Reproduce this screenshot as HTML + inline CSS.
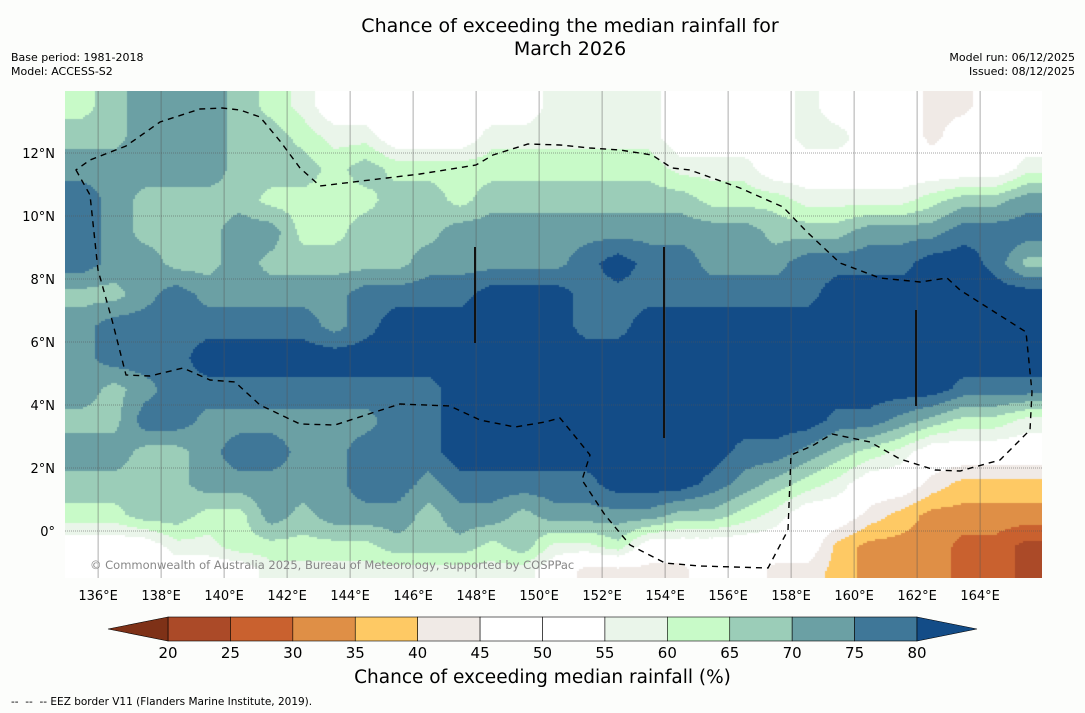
<!DOCTYPE html>
<html><head><meta charset="utf-8"><style>
body{margin:0;background:#fcfdfb;width:1085px;height:713px;overflow:hidden;font-family:"DejaVu Sans","Liberation Sans",sans-serif;position:relative}
.t{position:absolute;white-space:nowrap;color:#000}
</style></head><body>
<div class="t" style="left:0;width:1140px;text-align:center;top:15px;font-size:19px;line-height:23px">Chance of exceeding the median rainfall for<br>March 2026</div>
<div class="t" style="left:11px;top:51px;font-size:11px;line-height:14px">Base period: 1981-2018<br>Model: ACCESS-S2</div>
<div class="t" style="right:10px;top:51px;font-size:11px;line-height:14px;text-align:right">Model run: 06/12/2025<br>Issued: 08/12/2025</div>
<canvas id="map" width="977" height="487" style="position:absolute;left:65px;top:91px"></canvas>
<svg id="ov" width="1085" height="713" style="position:absolute;left:0;top:0"></svg>
<div class="t" style="left:90px;top:558px;font-size:11.5px;color:#888">© Commonwealth of Australia 2025, Bureau of Meteorology, supported by COSPPac</div>
<div class="t" style="left:0;width:1085px;text-align:center;top:667px;font-size:18.5px">Chance of exceeding median rainfall (%)</div>
<div class="t" style="left:11px;top:696px;font-size:10.5px">--&nbsp; --&nbsp; -- EEZ border V11 (Flanders Marine Institute, 2019).</div>
<script>
const lons=[135.5,136.5,137.5,138.5,139.5,140.5,141.5,142.5,143.5,144.5,145.5,146.5,147.5,148.5,149.5,150.5,151.5,152.5,153.5,154.5,155.5,156.5,157.5,158.5,159.5,160.5,161.5,162.5,163.5,164.5,165.5];
const lats=[13.5,12.5,11.5,10.5,9.5,8.5,7.5,6.5,5.5,4.5,3.5,2.5,1.5,0.5,-0.5,-1.25];
const rowCodes=[
"GLTTTLGPWWWWWWWPPPPWWWWPWWWEEWW",
"LLTTTLLGPPWWWPPPPPPWWWWPPWWEWWW",
"TTTTTLLLGLGGGGGGGGGPPPWWWWWWWWP",
"BTLLLLGGGGLLGLLLLLLLGGGPPPPGLLT",
"BTLLLTTGGLLLTTTTTTTTTTLLLTTTBBB",
"BTTLLTLLLLLTTTTTBDBBTTTBBBBDDBL",
"LLTBTTTTTBBBBDDDBBBBBBBBDDDDDDD",
"TBBBBBBBTBDDDDDDBBDDDDDDDDDDDDD",
"TBBBDDDDDDDDDDDDDDDDDDDDDDDDDDD",
"TLTBBBBBBBBBDDDDDDDDDDDDDDDDBBB",
"LLBBTTTTTTBBDDDDDDDDDDDDBBTLGGP",
"TTLLTBBTTBBBDDDDDDDDDBBTLGPWWWW",
"LLLLTTTTTBBTBBBBBDDDBTLGPWWEYYY",
"GGLLGGTLTTTLTTLTTTTLLGPWWEYOOOO",
"WWWPPGGGGGLLLGLPPGWWWWWWYOOORRK",
"WWWWWWPPPPPPPPPWEEEEWWEEYOOORRK"];
const codeVal={D:83,B:78,T:73,L:68,G:63,P:58,W:50,E:43,Y:38,O:33,R:28,K:23};
const grid=rowCodes.map(r=>r.split('').map(c=>codeVal[c]));
const binEdges=[20,25,30,35,40,45,50,55,60,65,70,75,80];
const binColors=["#7e3117","#ab4a28","#c9612f","#df8f46","#fec964","#f0eae6","#ffffff","#ffffff","#eaf5ea","#c8fac8","#9bcdb8","#6ba0a4","#3f7798","#134c87"];
const lonTicks=[136,138,140,142,144,146,148,150,152,154,156,158,160,162,164];
const latTicks=[12,10,8,6,4,2,0];
const X=lon=>66.6+(lon-135)*31.5, Y=lat=>531-lat*31.5;
function colorFor(v){let i=0;while(i<binEdges.length&&v>=binEdges[i])i++;return binColors[i];}
function idx(arr,v,desc){
  if(desc){if(v>=arr[0])return[0,0];for(let i=0;i<arr.length-1;i++){if(v<=arr[i]&&v>=arr[i+1])return[i,(arr[i]-v)/(arr[i]-arr[i+1])];}return[arr.length-2,1];}
  if(v<=arr[0])return[0,0];for(let i=0;i<arr.length-1;i++){if(v>=arr[i]&&v<=arr[i+1])return[i,(v-arr[i])/(arr[i+1]-arr[i])];}return[arr.length-2,1];}
const cv=document.getElementById('map'),ctx=cv.getContext('2d');
const S=2;
for(let py=0;py<487;py+=S){const lat=(531-(91+py+S/2))/31.5;let[ri,rt]=idx(lats,lat,true);
 for(let px=0;px<977;px+=S){const lon=135+((65+px+S/2)-66.6)/31.5;let[ci,ct]=idx(lons,lon,false);
  const v=grid[ri][ci]*(1-rt)*(1-ct)+grid[ri][ci+1]*(1-rt)*ct+grid[ri+1][ci]*rt*(1-ct)+grid[ri+1][ci+1]*rt*ct;
  ctx.fillStyle=colorFor(v);ctx.fillRect(px,py,S,S);}}
const NS='http://www.w3.org/2000/svg',ov=document.getElementById('ov');
function mk(t,a,txt){const e=document.createElementNS(NS,t);for(const k in a)e.setAttribute(k,a[k]);if(txt!==undefined)e.textContent=txt;ov.appendChild(e);return e;}
const FF='DejaVu Sans, Liberation Sans, sans-serif';
lonTicks.forEach(l=>{const g=mk('line',{x1:X(l),x2:X(l),y1:91,y2:578,stroke:'#555','stroke-width':0.8,'stroke-opacity':0.6});


const t=mk('text',{x:X(l),y:600,'font-size':13,'text-anchor':'middle','font-family':FF},l+'°E');

});
latTicks.forEach(l=>{const g=mk('line',{x1:65,x2:1042,y1:Y(l),y2:Y(l),stroke:'#555','stroke-width':0.8,'stroke-dasharray':'1,1','stroke-opacity':0.7});


const t=mk('text',{x:55,y:Y(l)+5,'font-size':13,'text-anchor':'end','font-family':FF},l===0?'0°':l+'°N');

});
const eez=mk('path',{d:'M76,170 L90,195 98,270 112,320 126,375 150,376 183,368 210,380 235,382 260,405 300,424 335,425 375,412 400,404 450,406 480,420 515,427 545,422 560,418 578,440 590,455 582,480 605,515 630,545 665,563 700,566 768,568 788,530 791,455 812,446 832,434 870,442 900,459 935,470 960,471 1000,460 1030,430 1032,392 1026,332 960,290 947,278 920,282 880,278 840,263 807,232 783,207 740,188 690,170 672,168 652,155 620,150 590,148 560,145 528,144 493,155 476,165 420,174 370,180 320,186 300,168 280,141 260,117 240,110 222,108 200,109 160,122 126,146 90,160 Z',fill:'none',stroke:'#000','stroke-width':1.4,'stroke-dasharray':'6,5'});


[[475,247,343],[664,247,438],[916,310,406]].forEach(b=>{const l=mk('line',{x1:b[0],x2:b[0],y1:b[1],y2:b[2],stroke:'#111','stroke-width':2});

});
const cbL=168,cbR=917,cbT=617,cbB=641,bw=(cbR-cbL)/12;
for(let i=0;i<12;i++){const r=mk('rect',{x:cbL+i*bw,y:cbT,width:bw,height:cbB-cbT,fill:binColors[i+1],stroke:'#000','stroke-width':0.6});

}
const tl=mk('polygon',{points:`${cbL},${cbT} 108,${(cbT+cbB)/2} ${cbL},${cbB}`,fill:binColors[0],stroke:'#000','stroke-width':0.6});


const tr=mk('polygon',{points:`${cbR},${cbT} 977,${(cbT+cbB)/2} ${cbR},${cbB}`,fill:binColors[13],stroke:'#000','stroke-width':0.6});


binEdges.forEach((e,i)=>{const t=mk('text',{x:cbL+i*bw,y:658,'font-size':15,'text-anchor':'middle','font-family':FF},e);

});
</script>
</body></html>
